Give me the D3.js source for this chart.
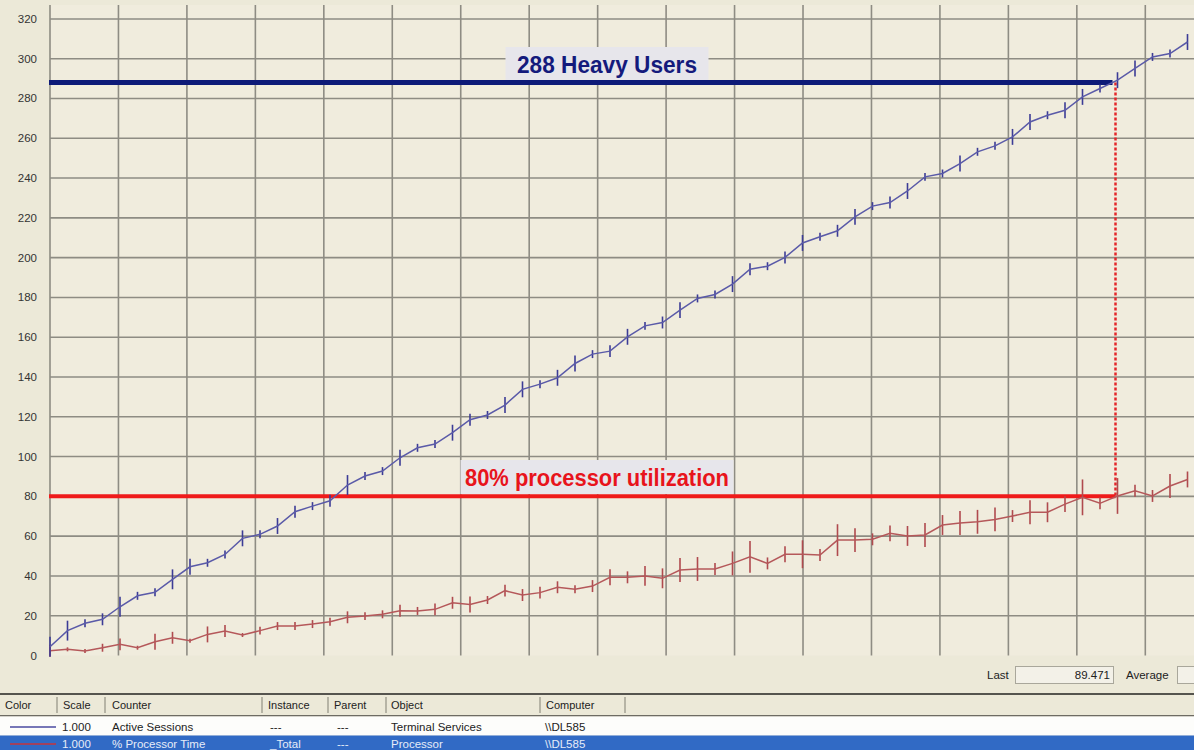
<!DOCTYPE html>
<html>
<head>
<meta charset="utf-8">
<script src="https://cdn.jsdelivr.net/npm/d3@7"></script>
<style>
  body { margin: 0; background: #ece9d8; }
  svg { display: block; }
  text { font-family: "Liberation Sans", Arial, sans-serif; }
</style>
</head>
<body>
<div class="chart-container"></div>
<script>
// values read from the perfmon capture, one per sample
const sessions = [4.4, 12.5, 16.2, 18.2, 24.5, 30, 31.8, 38.3, 44.6, 46.6,
  50.8, 58.9, 60.9, 65.1, 72.3, 75.1, 77.8, 85.7, 90.2, 92.7,
  99.4, 104.4, 106.3, 112, 118.5, 120.9, 125.9, 133.8, 136.4, 139.6,
  146.8, 151.5, 153, 160.2, 165.7, 167.4, 173.6, 179.5, 181.5, 186.7,
  194.2, 195.7, 200.1, 207.4, 210.5, 213.5, 220.5, 225.9, 227.7, 233.5,
  240.6, 242.3, 247.3, 253.2, 256.2, 260.7, 268.2, 271.6, 274.1, 280.8,
  285, 289.2, 295.1, 300.9, 302.6, 308.4]
const sessionsSpread = [5, 5, 2, 3, 5, 2, 2, 5, 4, 2, 2, 4, 2, 4, 3, 2, 3, 5, 2, 2,
  4, 2, 2, 4, 3, 2, 4, 4, 2, 4, 4, 2, 3, 4, 2, 3, 4, 2, 2, 4,
  3, 2, 3, 4, 2, 3, 4, 2, 3, 4, 2, 2, 4, 2, 2, 4, 4, 2, 4, 4,
  2, 4, 4, 2, 2, 4]
const cpu = [2.4, 3.1, 2.3, 3.9, 5.6, 3.9, 6.9, 8.9, 7.4, 10.6,
  12.3, 10.3, 12.5, 14.8, 14.8, 15.8, 17, 19.2, 19.8, 20.7,
  22.5, 22.4, 23.2, 26.5, 25.6, 27.9, 32.6, 30.4, 31.6, 34.3,
  33.3, 34.9, 39.3, 39.3, 40, 38.8, 43, 43.5, 43.5, 46.3,
  49.6, 46.3, 50.9, 50.9, 50.5, 58, 58, 58.4, 61.4, 60.1,
  60.6, 65.6, 66.6, 67.2, 68.4, 70.1, 72, 72, 76.1, 79.5,
  76.5, 80.2, 82.8, 80.2, 85.2, 88.5]
const cpuSpread = [3, 1, 1, 2, 3, 1, 4, 3, 1, 4, 3, 1, 2, 2, 2, 2, 2, 3, 2, 2,
  3, 2, 3, 3, 4, 2, 3, 3, 3, 3, 2, 3, 4, 3, 5, 5, 6, 6, 3, 6,
  8, 3, 4, 7, 3, 8, 6, 3, 4, 5, 6, 5, 6, 6, 6, 3, 6, 5, 4, 9,
  3, 9, 3, 3, 6, 4]
const yTicks = [0, 20, 40, 60, 80, 100, 120, 140, 160, 180, 200, 220, 240, 260, 280, 300, 320]
const usersLevel = 288
const cpuLevel = 80
const usersLabel = "288 Heavy Users"
const cpuLabel = "80% processor utilization"
const lastValue = "89.471"
const tableHeaders = ["Color", "Scale", "Counter", "Instance", "Parent", "Object", "Computer"]
const rowSessions = ["1.000", "Active Sessions", "---", "---", "Terminal Services", "\\\\DL585"]
const rowCpu = ["1.000", "% Processor Time", "_Total", "---", "Processor", "\\\\DL585"]

const W = 1194, H = 750
svg = d3.select(".chart-container").append("svg").attr("width", W).attr("height", H)

svg.append("rect").attr("width", W).attr("height", H).attr("fill", "#ece9d8")

// plot area
const plotLeft = 50, plotTop = 5, plotBottom = 655.5
x = d3.scaleLinear().domain([0, 66.5]).range([plotLeft, plotLeft + 66.5 * 17.5])
y = d3.scaleLinear().domain([0, 327]).range([plotBottom, plotTop])

svg.append("rect").attr("x", plotLeft).attr("y", plotTop).attr("width", W - plotLeft).attr("height", plotBottom - plotTop)
  .attr("fill", "#f0ecdd")

// grid: 17 vertical divisions, horizontal every 20
const vgrid = d3.range(0, 17).map(k => k * 66.5 / 17)
svg.append("g").selectAll("line").data(vgrid).enter().append("line")
  .attr("x1", d => x(d)).attr("x2", d => x(d)).attr("y1", plotTop).attr("y2", plotBottom)
  .attr("stroke", "#8e8c83").attr("stroke-width", 1.6)
svg.append("g").selectAll("line").data(yTicks.slice(1)).enter().append("line")
  .attr("x1", plotLeft).attr("x2", W).attr("y1", d => y(d)).attr("y2", d => y(d))
  .attr("stroke", "#8e8c83").attr("stroke-width", 1.6)

// y labels
svg.append("g").selectAll("text").data(yTicks).enter().append("text")
  .attr("x", 37).attr("y", d => y(d) + 4).attr("text-anchor", "end")
  .attr("font-size", 11.5).attr("fill", "#333").text(d => d)

// where the sessions line reaches 288
let ci = sessions.findIndex(v => v >= usersLevel)
const cross = ci - 1 + (usersLevel - sessions[ci - 1]) / (sessions[ci] - sessions[ci - 1])

// annotation lines
svg.append("line").attr("x1", plotLeft - 1).attr("x2", x(cross)).attr("y1", y(usersLevel)).attr("y2", y(usersLevel))
  .attr("stroke", "#0d1a78").attr("stroke-width", 5)
svg.append("line").attr("x1", plotLeft - 1).attr("x2", x(cross) + 3).attr("y1", y(cpuLevel)).attr("y2", y(cpuLevel))
  .attr("stroke", "#ef1a1a").attr("stroke-width", 4)
svg.append("line").attr("x1", x(cross) + 3).attr("x2", x(cross) + 3).attr("y1", y(usersLevel)).attr("y2", y(cpuLevel))
  .attr("stroke", "#e3262a").attr("stroke-width", 2.5).attr("stroke-dasharray", "3,2")

// series: min/max bars plus the average line
function drawSeries(vals, spread, lineColor, barColor) {
  g = svg.append("g")
  g.selectAll("line").data(vals).enter().append("line")
    .attr("x1", (d, i) => x(i)).attr("x2", (d, i) => x(i))
    .attr("y1", (d, i) => y(d - spread[i])).attr("y2", (d, i) => y(d + spread[i]))
    .attr("stroke", barColor).attr("stroke-width", 1.6)
  line = d3.line().x((d, i) => x(i)).y(d => y(d))
  g.append("path").attr("d", line(vals)).attr("fill", "none")
    .attr("stroke", lineColor).attr("stroke-width", 1.5)
}
drawSeries(cpu, cpuSpread, "#b5585a", "#b04a4e")
drawSeries(sessions, sessionsSpread, "#5a5aa8", "#3c3c96")

// labels with their light boxes
function boxedLabel(txt, cx, baseline, color, boxTop, boxBottom, width, textWidth) {
  g = svg.append("g")
  g.append("rect").attr("x", cx - width / 2).attr("y", boxTop).attr("width", width)
    .attr("height", boxBottom - boxTop).attr("fill", "#e7e6eb")
  g.append("text").attr("x", cx).attr("y", baseline).attr("text-anchor", "middle")
    .attr("font-size", 23).attr("font-weight", "bold").attr("fill", color)
    .attr("textLength", textWidth).attr("lengthAdjust", "spacingAndGlyphs").text(txt)
}
boxedLabel(usersLabel, 607, 73, "#141a7c", 47, 80, 203, 180)
boxedLabel(cpuLabel, 597, 486, "#e8141c", 460, 494, 273, 264)

// status strip under the graph
svg.append("text").attr("x", 987).attr("y", 679).attr("font-size", 11.5).attr("fill", "#222").text("Last")
svg.append("rect").attr("x", 1015.5).attr("y", 666.5).attr("width", 98).attr("height", 17)
  .attr("fill", "#f3f1e8").attr("stroke", "#a9a79b")
svg.append("text").attr("x", 1110).attr("y", 679).attr("text-anchor", "end").attr("font-size", 11.5)
  .attr("fill", "#222").text(lastValue)
svg.append("text").attr("x", 1126).attr("y", 679).attr("font-size", 11.5).attr("fill", "#222").text("Average")
svg.append("rect").attr("x", 1177.5).attr("y", 666.5).attr("width", 30).attr("height", 17)
  .attr("fill", "#f3f1e8").attr("stroke", "#a9a79b")

// counter table
svg.append("rect").attr("x", 0).attr("y", 693).attr("width", W).attr("height", 2).attr("fill", "#55544e")
svg.append("rect").attr("x", 0).attr("y", 695).attr("width", W).attr("height", 20).attr("fill", "#ece9d8")
svg.append("rect").attr("x", 0).attr("y", 715).attr("width", W).attr("height", 1.5).attr("fill", "#6d6b63")
svg.append("rect").attr("x", 0).attr("y", 716.5).attr("width", W).attr("height", 19).attr("fill", "#fdfdfb")
svg.append("rect").attr("x", 0).attr("y", 735.5).attr("width", W).attr("height", 15).attr("fill", "#316ac5")

const headX = [5, 63, 112, 268, 334, 391, 546]
const sepX = [57, 105, 262, 328, 386, 540, 625]
svg.append("g").selectAll("text").data(tableHeaders).enter().append("text")
  .attr("x", (d, i) => headX[i]).attr("y", 709).attr("font-size", 11).attr("fill", "#222").text(d => d)
svg.append("g").selectAll("line").data(sepX).enter().append("line")
  .attr("x1", d => d).attr("x2", d => d).attr("y1", 697).attr("y2", 713)
  .attr("stroke", "#a4a294").attr("stroke-width", 1.5)

const cellX = [62, 112, 270, 337, 391, 545]
function tableRow(cells, baseline, color, lineColor) {
  svg.append("line").attr("x1", 10).attr("x2", 56).attr("y1", baseline - 4).attr("y2", baseline - 4)
    .attr("stroke", lineColor).attr("stroke-width", 1.5)
  svg.append("g").selectAll("text").data(cells).enter().append("text")
    .attr("x", (d, i) => cellX[i]).attr("y", baseline).attr("font-size", 11.5).attr("fill", color).text(d => d)
}
tableRow(rowSessions, 731, "#222", "#4a4aa0")
tableRow(rowCpu, 748, "#e6ecf8", "#c8343a")
</script>
</body>
</html>
